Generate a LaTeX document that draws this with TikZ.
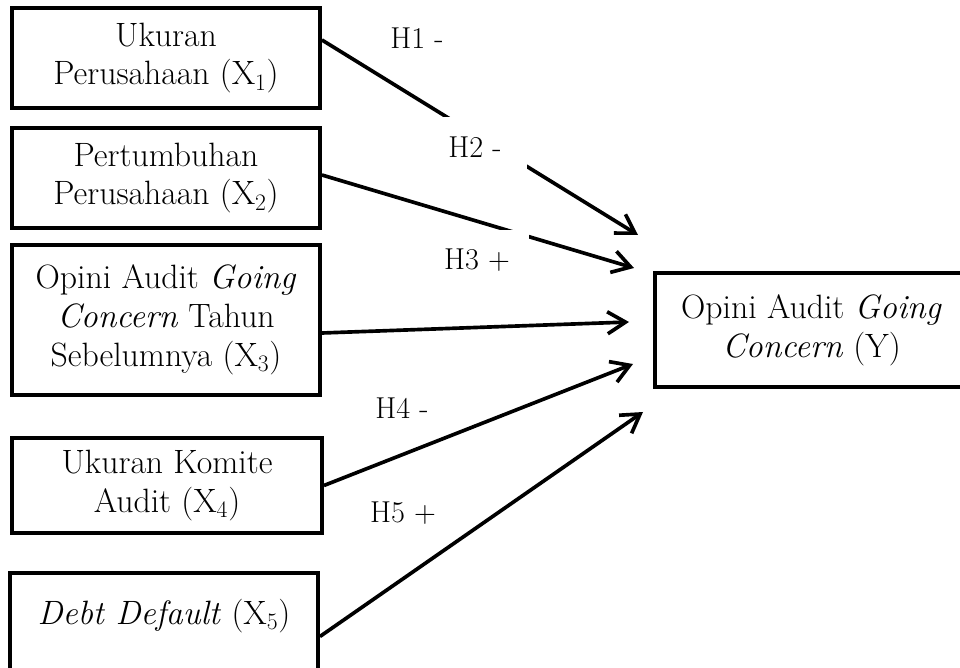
\documentclass[tikz,border=0pt]{standalone}
\usepackage{fontspec}
\usetikzlibrary{arrows.meta}
\tikzset{
  var/.style={draw,line width=2.7pt,align=center,inner sep=0pt,
    font=\fontsize{24}{27.7}\selectfont},
  link/.style={-{Straight Barb[length=4.5mm,width=5.5mm]},line width=2.6pt},
  hyp/.style={font=\fontsize{21.5}{24}\selectfont},
  hypmask/.style={hyp,fill=white,minimum width=2.6cm,minimum height=1.5cm}
}

\begin{document}
\begin{tikzpicture}[x=0.025cm,y=-0.025cm]
\useasboundingbox (0,0) rectangle (960,668);
\node[var,minimum width=7.7cm,minimum height=2.5cm] (x1) at (166,58)
  {Ukuran\\Perusahaan (X\textsubscript{1})};
\node[var,minimum width=7.7cm,minimum height=2.5cm] (x2) at (166,178)
  {Pertumbuhan\\Perusahaan (X\textsubscript{2})};
\node[var,minimum width=7.7cm,minimum height=3.75cm] (x3) at (166,320)
  {Opini Audit \textit{Going}\\\textit{Concern} Tahun\\Sebelumnya (X\textsubscript{3})};
\node[var,minimum width=7.75cm,minimum height=2.375cm] (x4) at (167,485.5)
  {Ukuran Komite\\Audit (X\textsubscript{4})};
\node[var,minimum width=7.7cm,minimum height=3.175cm] (x5) at (164,636.5)
  {\textit{Debt Default} (X\textsubscript{5})\\[8pt]\mbox{}};
\node[var,minimum width=7.825cm,minimum height=2.85cm] (y) at (811.5,330)
  {Opini Audit \textit{Going}\\\textit{Concern} (Y)};
% arrow tips in front of Y
\coordinate (t1) at (638,235);
\coordinate (t2) at (634,268);
\coordinate (t3) at (629,322);
\coordinate (t4) at (633,364);
\coordinate (t5) at (643,412);
\draw[link] ([yshift=0.45cm]x1.east)--(t1);
\draw[link] ([yshift=0.075cm]x2.east)--(t2);
\draw[link] ([yshift=-0.325cm]x3.east)--(t3);
\draw[link] (x4.east)--(t4);
\draw[link] (x5.east)--(t5);
\node[hyp] (h1) at (417,38) {H1 -};
\node[hypmask] (h2) at (475,147) {H2 -};
\node[hypmask] (h3) at (477,260) {H3 +};
\node[hyp] (h4) at (402,408) {H4 -};
\node[hyp] (h5) at (403,513) {H5 +};
\end{tikzpicture}
\end{document}
